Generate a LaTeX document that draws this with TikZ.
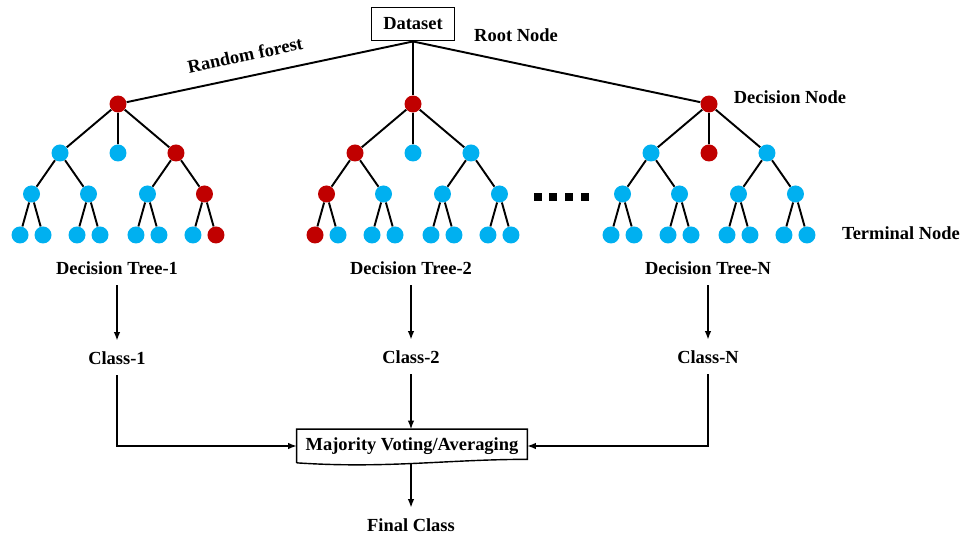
\documentclass[tikz,border=0pt]{standalone}
\usepackage{fontspec}
\setmainfont{Liberation Serif}
\usepackage{xcolor}
\definecolor{SplitRed}{RGB}{192,0,0}
\definecolor{LeafBlue}{RGB}{0,176,240}
\usetikzlibrary{positioning, arrows.meta, calc}

\begin{document}
\begin{tikzpicture}[x=0.02cm, y=-0.02cm,
    font=\fontsize{10.5pt}{12pt}\selectfont\bfseries]
    \tikzset{
        decnode/.style={circle, fill=SplitRed, inner sep=0pt, minimum size=3.4mm},
        termnode/.style={circle, fill=LeafBlue, inner sep=0pt, minimum size=3.4mm},
        treeline/.style={line width=1.1pt},
        edge from parent/.style={draw, treeline},
        level 1/.style={sibling distance=1.16cm, level distance=0.98cm},
        level 2/.style={sibling distance=1.14cm, level distance=0.82cm},
        level 3/.style={sibling distance=0.46cm, level distance=0.82cm},
        dotsq/.style={rectangle, fill=black, inner sep=0pt, minimum size=1.6mm},
        databox/.style={rectangle, draw, line width=1.1pt, minimum width=1.66cm,
            minimum height=0.66cm},
        plaintext/.style={inner sep=6pt},
        votebox/.style={rectangle, minimum width=4.6cm, minimum height=0.66cm,
            inner sep=0pt},
        votestream/.style={thick, -{Latex[length=1.7mm, width=1.3mm]}}
    }
    \useasboundingbox (0,0) rectangle (964,537);
    % dataset and side texts
    \node[databox] (data) at (413,24) {Dataset};
    \node (rootlbl) at (516,35) {Root Node};
    \node[rotate=12] (forestlbl) at (245,55) {Random forest};
    \node (declbl) at (790,97) {Decision Node};
    \node (termlbl) at (901,233) {Terminal Node};
    % three trees
    \node[decnode] (tree1) at (118,104) {}
        child {node[termnode] {}
            child {node[termnode] {} child {node[termnode] {}} child {node[termnode] {}}}
            child {node[termnode] {} child {node[termnode] {}} child {node[termnode] {}}}}
        child {node[termnode] {}}
        child {node[decnode] {}
            child {node[termnode] {} child {node[termnode] {}} child {node[termnode] {}}}
            child {node[decnode] {} child {node[termnode] {}} child {node[decnode] {}}}};
    \node[decnode] (tree2) at (413,104) {}
        child {node[decnode] {}
            child {node[decnode] {} child {node[decnode] {}} child {node[termnode] {}}}
            child {node[termnode] {} child {node[termnode] {}} child {node[termnode] {}}}}
        child {node[termnode] {}}
        child {node[termnode] {}
            child {node[termnode] {} child {node[termnode] {}} child {node[termnode] {}}}
            child {node[termnode] {} child {node[termnode] {}} child {node[termnode] {}}}};
    \node[decnode] (treen) at (709,104) {}
        child {node[termnode] {}
            child {node[termnode] {} child {node[termnode] {}} child {node[termnode] {}}}
            child {node[termnode] {} child {node[termnode] {}} child {node[termnode] {}}}}
        child {node[decnode] {}}
        child {node[termnode] {}
            child {node[termnode] {} child {node[termnode] {}} child {node[termnode] {}}}
            child {node[termnode] {} child {node[termnode] {}} child {node[termnode] {}}}};
    \draw[treeline] (data.south) -- (tree1);
    \draw[treeline] (data.south) -- (tree2);
    \draw[treeline] (data.south) -- (treen);
    % gap dots
    \node[dotsq] (gap1) at (538,197) {};
    \node[dotsq] (gap2) at (553,197) {};
    \node[dotsq] (gap3) at (569,197) {};
    \node[dotsq] (gap4) at (585,197) {};
    % tree outputs
    \node[plaintext] (dt1) at (117,268) {Decision Tree-1};
    \node[plaintext] (dt2) at (411,268) {Decision Tree-2};
    \node[plaintext] (dtn) at (708,268) {Decision Tree-N};
    \node[plaintext] (class1) at (117,358) {Class-1};
    \node[plaintext] (class2) at (411,357) {Class-2};
    \node[plaintext] (classn) at (708,357) {Class-N};
    \node[votebox] (vote) at (412,446) {Majority Voting/Averaging};
    \draw[thick] (vote.south west) -- (vote.north west) -- (vote.north east)
        -- ([yshift=0.07cm]vote.south east)
        .. controls +(-80,0) and +(90,6) .. (vote.south west);
    \node[plaintext] (final) at (411,525) {Final Class};
    \draw[votestream] (dt1) -- (class1);
    \draw[votestream] (dt2) -- (class2);
    \draw[votestream] (dtn) -- (classn);
    \draw[votestream] (class1.south) |- (vote.west);
    \draw[votestream] (class2.south) -- (class2.south |- vote.north);
    \draw[votestream] (classn.south) |- (vote.east);
    \draw[votestream] (final.north |- vote.south) -- (final.north);
\end{tikzpicture}
\end{document}
